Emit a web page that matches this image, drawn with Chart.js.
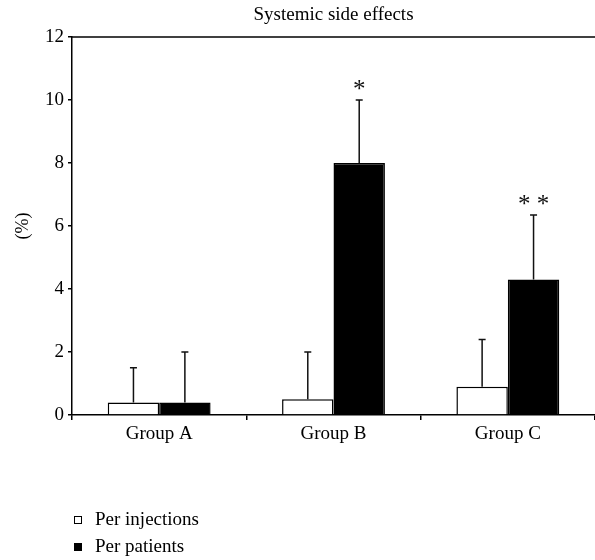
<!DOCTYPE html>
<html>
<head>
<meta charset="utf-8">
<script src="https://cdn.jsdelivr.net/npm/chart.js@4.4.1/dist/chart.umd.min.js"></script>
<style>
html,body{margin:0;padding:0;background:#fff;}
#wrap{width:595px;height:560px;position:relative;}
</style>
</head>
<body>
<div id="wrap"><canvas id="c" width="595" height="560"></canvas></div>
<script>
// ---- data ----
const categories = ["Group A", "Group B", "Group C"];
const seriesNames = ["Per injections", "Per patients"];
const perInjections = [0.4, 0.5, 0.9];
const perInjectionsErr = [1.1, 1.5, 1.5];
const perPatients = [0.4, 8.0, 4.3];
const perPatientsErr = [1.6, 2.0, 2.05];
const significance = ["", "*", "**"];
const yTicks = [0, 2, 4, 6, 8, 10, 12];
const titleText = "Systemic side effects";
const yTitle = "(%)";

const FONT = "'Liberation Serif', 'Times New Roman', serif";

const errorBarPlugin = {
  id: 'errorBars',
  afterDatasetsDraw(chart) {
    const ctx = chart.ctx;
    const y = chart.scales.y;
    const errs = [perInjectionsErr, perPatientsErr];
    ctx.save();
    ctx.strokeStyle = '#111';
    ctx.lineWidth = 1.5;
    chart.data.datasets.forEach((ds, di) => {
      const meta = chart.getDatasetMeta(di);
      meta.data.forEach((bar, i) => {
        const v = ds.data[i];
        const top = y.getPixelForValue(v + errs[di][i]);
        const base = y.getPixelForValue(v);
        ctx.beginPath();
        ctx.moveTo(bar.x, base);
        ctx.lineTo(bar.x, top);
        ctx.moveTo(bar.x - 3.5, top);
        ctx.lineTo(bar.x + 3.5, top);
        ctx.stroke();
        if (di === 1 && significance[i]) {
          ctx.fillStyle = '#111';
          ctx.font = "25px " + FONT;
          ctx.textAlign = 'center';
          ctx.textBaseline = 'alphabetic';
          ctx.fillText(significance[i].split('').join(' '), bar.x, top - 3);
        }
      });
    });
    // top frame line
    const a = chart.chartArea;
    ctx.strokeStyle = '#000';
    ctx.lineWidth = 1.5;
    ctx.beginPath();
    ctx.moveTo(a.left, a.top);
    ctx.lineTo(a.right, a.top);
    ctx.stroke();
    // title
    ctx.fillStyle = '#000';
    ctx.font = "19px " + FONT;
    ctx.textAlign = 'center';
    ctx.textBaseline = 'middle';
    ctx.fillText(titleText, (a.left + a.right) / 2, 15);
    // legend
    const items = chart.data.datasets;
    items.forEach((ds, i) => {
      const cy = 520 + i * 27;
      ctx.fillStyle = ds.backgroundColor;
      ctx.strokeStyle = '#000';
      ctx.lineWidth = 1;
      ctx.fillRect(74.5, cy - 3.5, 7, 7);
      ctx.strokeRect(74.5, cy - 3.5, 7, 7);
      ctx.fillStyle = '#000';
      ctx.font = "19px " + FONT;
      ctx.textAlign = 'left';
      ctx.textBaseline = 'middle';
      ctx.fillText(ds.label, 95, cy);
    });
    ctx.restore();
  }
};

new Chart(document.getElementById('c'), {
  type: 'bar',
  data: {
    labels: categories,
    datasets: [
      { label: seriesNames[0], data: perInjections, backgroundColor: '#ffffff', borderColor: '#000', borderWidth: 1.5, borderSkipped: 'bottom' },
      { label: seriesNames[1], data: perPatients, backgroundColor: '#000000', borderColor: '#000', borderWidth: 1.5, borderSkipped: 'bottom' }
    ]
  },
  options: {
    responsive: false,
    animation: false,
    devicePixelRatio: 1,
    layout: { padding: { top: 37, right: 0, bottom: 105, left: 0 } },
    plugins: { legend: { display: false }, title: { display: false }, tooltip: { enabled: false } },
    datasets: { bar: { categoryPercentage: 0.59, barPercentage: 1.0 } },
    scales: {
      x: {
        offset: true,
        grid: { display: true, offset: true, drawOnChartArea: false, drawTicks: true, tickLength: 5, color: '#000', lineWidth: 1.5 },
        border: { display: true, color: '#000', width: 1.5 },
        ticks: { color: '#000', font: { family: FONT, size: 19 }, padding: 3 },
        afterFit(s) { s.height = 40; }
      },
      y: {
        min: 0, max: 12,
        afterBuildTicks(s) { s.ticks = yTicks.map(v => ({ value: v })); },
        grid: { display: true, drawOnChartArea: false, drawTicks: true, tickLength: 4, color: '#000', lineWidth: 1.5 },
        border: { display: true, color: '#000', width: 1.5 },
        ticks: { color: '#000', font: { family: FONT, size: 19 }, padding: 4 },
        title: { display: true, text: yTitle, color: '#000', font: { family: FONT, size: 18 }, padding: { top: 12, bottom: 0 } },
        afterFit(s) { s.width = 72; }
      }
    }
  },
  plugins: [errorBarPlugin]
});
</script>
</body>
</html>
